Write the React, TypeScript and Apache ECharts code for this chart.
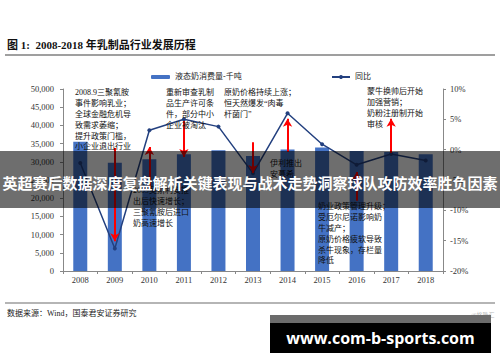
import React, { useEffect, useRef } from "react";
import * as echarts from "echarts";

const years = ["2008", "2009", "2010", "2011", "2012", "2013", "2014", "2015", "2016", "2017", "2018"];
const consumption = [35500, 29750, 30700, 32100, 33200, 31600, 33400, 33900, 33000, 32700, 32100];
const yoy = [-2.2, -16.3, 3.2, 5.0, 3.8, -3.9, 6.0, 0.9, -2.5, -0.7, -1.8];

const barName = "液态奶消费量-千吨";
const lineName = "同比";

// arrows: [year, from value, to value] on the left axis scale
const arrows: [string, number, number][] = [
  ["2009", 33800, 8200],
  ["2010", 22300, 34100],
  ["2011", 41200, 31300],
  ["2013", 35400, 26900],
  ["2014", 32700, 41800],
  ["2016", 19300, 27200],
  ["2017", 32400, 41800],
];

const notes: { x: number; y: number; lines: string[] }[] = [
  { x: 75, y: 87.5, lines: ["2008.9三聚氰胺", "事件影响乳业；", "全球金融危机导", "致需求萎缩；", "提升政策门槛，", "小企业退出行业"] },
  { x: 166, y: 87.5, lines: ["重新审查乳制", "品生产许可条", "件，部分中小", "企业被淘汰"] },
  { x: 224, y: 87.5, lines: ["原奶价格持续上涨；", "恒天然爆发“肉毒", "杆菌门”"] },
  { x: 367, y: 86.5, lines: ["蒙牛换帅后开始", "加强营销；", "奶粉注册制开始", "审核"] },
  { x: 270, y: 158.5, lines: ["伊利推出", "安慕希"] },
  { x: 133, y: 185.5, lines: ["2009莫斯利安推", "出后快速增长；", "三聚氰胺后进口", "奶高速增长"] },
  { x: 318, y: 201.5, lines: ["奶业政策管理升级；", "受厄尔尼诺影响奶", "牛减产；", "原奶价格疲软导致", "杀牛现象，存栏量", "降低"] },
];

const FONT = '"Liberation Serif", "Times New Roman", "Noto Sans CJK SC", serif';

export default function App() {
  const ref = useRef<HTMLDivElement>(null);
  useEffect(() => {
    if (!ref.current) return;
    const chart = echarts.init(ref.current, undefined, { renderer: "svg" });
    const graphics: any[] = [
      {
        type: "text",
        left: 7,
        top: 39,
        style: { text: "图 1:  2008-2018 年乳制品行业发展历程", fontSize: 11, fontWeight: "bold", fontFamily: FONT, fill: "#111" },
      },
      { type: "line", shape: { x1: 5, y1: 55, x2: 495, y2: 55 }, style: { stroke: "#7f7f7f", lineWidth: 1.5 } },
      { type: "line", shape: { x1: 5, y1: 303, x2: 495, y2: 303 }, style: { stroke: "#b5b5b5", lineWidth: 2 } },
      {
        type: "text",
        x: 7,
        y: 309,
        style: { text: "数据来源：Wind，国泰君安证券研究", fontSize: 8, fontFamily: FONT, fill: "#222" },
      },
      {
        type: "text",
        x: 471,
        y: 312,
        style: { text: "@格隆汇", fontSize: 6, fontFamily: FONT, fill: "#bbb" },
      },
    ];
    notes.forEach((n) => {
      graphics.push({
        type: "text",
        x: n.x,
        y: n.y,
        z: 50,
        style: {
          text: n.lines.join("\n"),
          fontSize: 8,
          lineHeight: 10.8,
          fontFamily: FONT,
          fill: "#111",
        },
      });
    });
    graphics.push(
      { type: "rect", z: 100, shape: { x: 0, y: 151, width: 500, height: 57 }, style: { fill: "rgba(0,0,0,0.57)" } },
      {
        type: "text",
        z: 101,
        x: 250,
        y: 182,
        style: {
          text: "英超赛后数据深度复盘解析关键表现与战术走势洞察球队攻防效率胜负因素",
          fontSize: 15,
          fontWeight: "bold",
          fontFamily: '"Noto Sans CJK SC", sans-serif',
          fill: "#fff",
          align: "center",
          verticalAlign: "middle",
        },
      },
      { type: "rect", z: 100, shape: { x: 270, y: 315, width: 221, height: 8 }, style: { fill: "#6b6b6b" } },
      { type: "rect", z: 100, shape: { x: 270, y: 323, width: 221, height: 30 }, style: { fill: "#000" } },
      {
        type: "text",
        z: 101,
        x: 380.5,
        y: 338,
        style: {
          text: "www.com-b-sports.com",
          fontSize: 16,
          fontWeight: "bold",
          fontFamily: '"Open Sans", sans-serif',
          fill: "#fff",
          align: "center",
          verticalAlign: "middle",
        },
      }
    );

    chart.setOption({
      animation: false,
      backgroundColor: "#fff",
      textStyle: { fontFamily: FONT },
      grid: { left: 63, right: 57, top: 89, bottom: 91, containLabel: false },
      legend: [
        {
          data: [barName],
          left: 146,
          top: 68,
          itemWidth: 19,
          itemHeight: 4,
          itemGap: 4,
          textStyle: { fontSize: 8, fontFamily: FONT, color: "#222" },
        },
        {
          data: [lineName],
          left: 326,
          top: 68,
          itemWidth: 18,
          itemHeight: 5,
          textStyle: { fontSize: 8, fontFamily: FONT, color: "#222" },
        },
      ],
      xAxis: {
        type: "category",
        data: years,
        boundaryGap: true,
        axisLine: { lineStyle: { color: "#888" } },
        axisTick: { show: true, length: 3, lineStyle: { color: "#888" } },
        axisLabel: { fontSize: 8.5, color: "#333", margin: 5 },
      },
      yAxis: [
        {
          type: "value",
          min: 0,
          max: 50000,
          interval: 5000,
          splitLine: { show: false },
          axisLine: { show: true, lineStyle: { color: "#888" } },
          axisTick: { show: true, length: 3, lineStyle: { color: "#888" } },
          axisLabel: {
            fontSize: 8.5,
            color: "#333",
            margin: 9,
            formatter: (v: number) => v.toLocaleString("en-US"),
          },
        },
        {
          type: "value",
          min: -20,
          max: 10,
          interval: 5,
          splitLine: { show: false },
          axisLine: { show: true, lineStyle: { color: "#888" } },
          axisTick: { show: true, length: 3, lineStyle: { color: "#888" } },
          axisLabel: { fontSize: 8.5, color: "#333", margin: 7, formatter: (v: number) => v + "%" },
        },
      ],
      series: [
        {
          name: barName,
          type: "bar",
          data: consumption,
          barWidth: 14,
          itemStyle: { color: "#4472C4" },
          markLine: {
            silent: true,
            symbol: ["none", "arrow"],
            symbolSize: [7, 8],
            label: { show: false },
            lineStyle: { color: "#FF0000", width: 2, type: "solid" },
            emphasis: { disabled: true },
            data: arrows.map(([y, a, b]) => [{ coord: [y, a] }, { coord: [y, b] }]),
          },
        },
        {
          name: lineName,
          type: "line",
          yAxisIndex: 1,
          data: yoy,
          symbol: "circle",
          symbolSize: 4,
          lineStyle: { color: "#23407F", width: 1.5 },
          itemStyle: { color: "#23407F" },
        },
      ],
      graphic: graphics,
    });
    return () => chart.dispose();
  }, []);
  return (
    <div
      ref={ref}
      style={{ position: "absolute", left: 0, top: 0, width: 500, height: 362, background: "#fff" }}
    />
  );
}
